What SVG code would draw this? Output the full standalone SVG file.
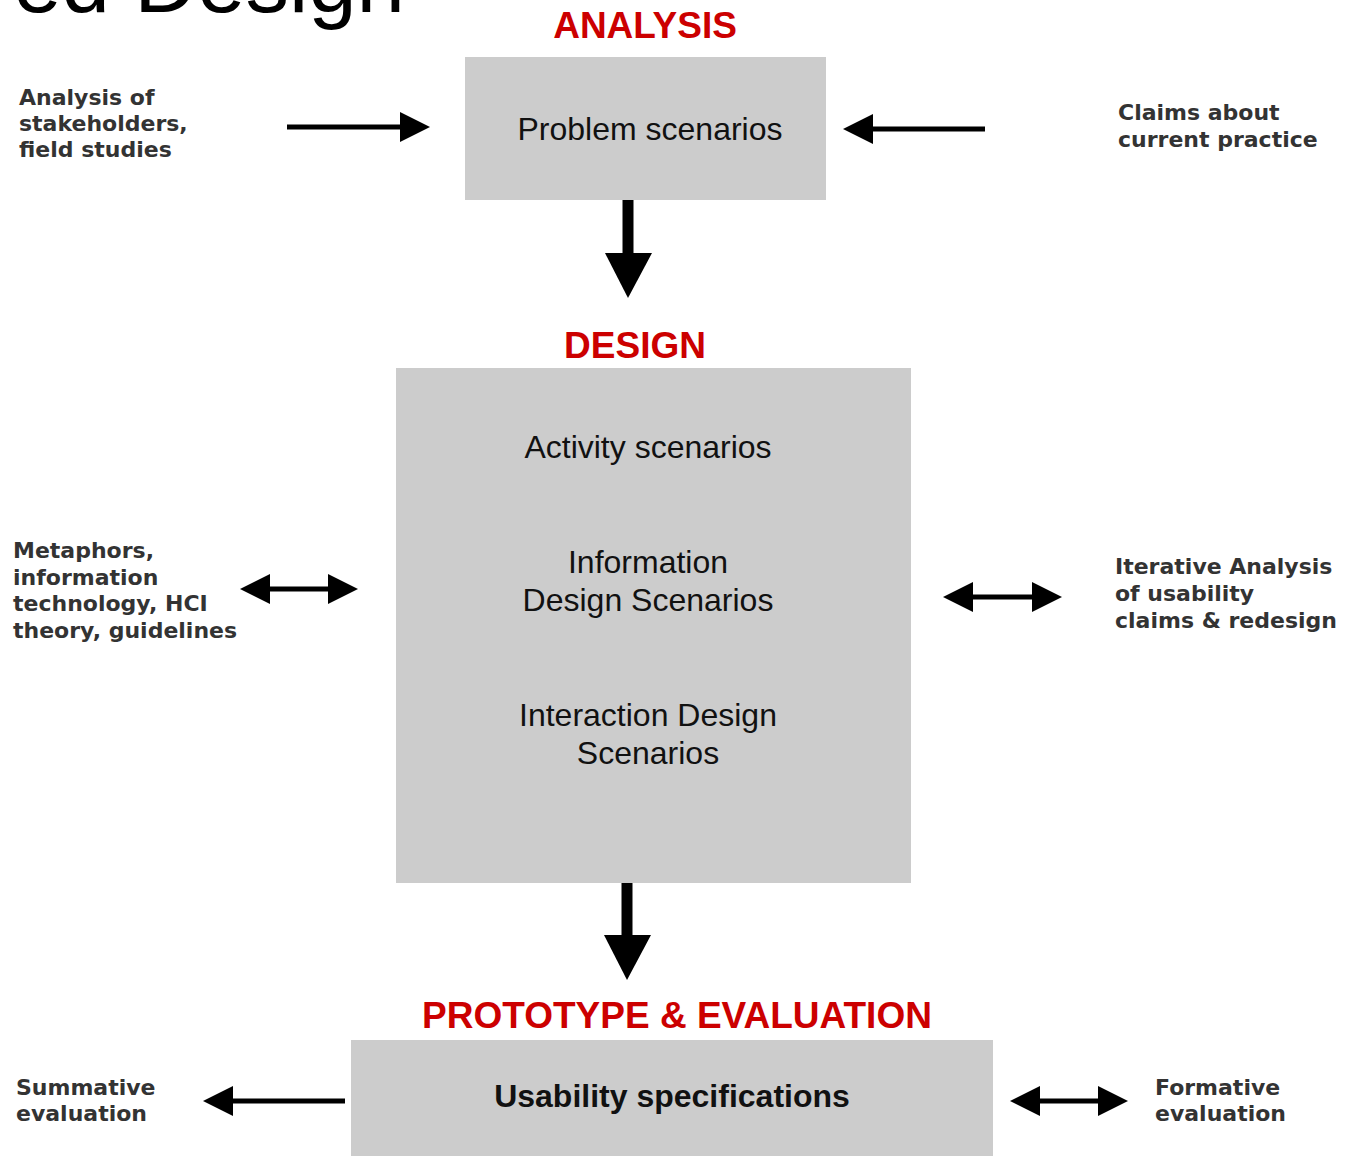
<svg xmlns="http://www.w3.org/2000/svg" width="1355" height="1156" viewBox="0 0 1355 1156">
<defs>
<style>
.title{font-family:"Liberation Sans",Arial,sans-serif;font-size:87px;fill:#000}
.phase{font-family:"Liberation Sans",Arial,sans-serif;font-weight:bold;font-size:37px;fill:#cc0000;text-anchor:middle}
.box{fill:#cccccc}
.bt{font-family:"Liberation Sans",Arial,sans-serif;font-size:32px;fill:#111;text-anchor:middle}
.bb{font-family:"Liberation Sans",Arial,sans-serif;font-weight:bold;font-size:32px;fill:#111;text-anchor:middle}
.lab{font-family:"DejaVu Sans",Verdana,sans-serif;font-weight:bold;font-size:22px;fill:#333}
.ln{stroke:#000;stroke-width:5;fill:none}
.hd{fill:#000}
</style>
</defs>
<rect width="1355" height="1156" fill="#fff"/>
<text class="title" x="405" y="12" text-anchor="end">ed Design</text>

<g id="analysis">
<text class="phase" x="645" y="38">ANALYSIS</text>
<rect class="box" x="465" y="57" width="361" height="143"/>
<text class="bt" x="650" y="140">Problem scenarios</text>
</g>

<g id="design">
<text class="phase" x="635" y="358">DESIGN</text>
<rect class="box" x="396" y="368" width="515" height="515"/>
<text class="bt" x="648" y="458">Activity scenarios</text>
<text class="bt" x="648" y="573">Information</text>
<text class="bt" x="648" y="611">Design Scenarios</text>
<text class="bt" x="648" y="726">Interaction Design</text>
<text class="bt" x="648" y="764">Scenarios</text>
</g>

<g id="prototype">
<text class="phase" x="677" y="1028">PROTOTYPE &amp; EVALUATION</text>
<rect class="box" x="351" y="1040" width="642" height="130"/>
<text class="bb" x="672" y="1107">Usability specifications</text>
</g>

<g id="lab-analysis-of"><text class="lab" x="19" y="105">Analysis of</text><text class="lab" x="19" y="131">stakeholders,</text><text class="lab" x="19" y="157">field studies</text></g>
<g id="lab-claims"><text class="lab" x="1118" y="120">Claims about</text><text class="lab" x="1118" y="147">current practice</text></g>
<g id="lab-metaphors"><text class="lab" x="13" y="558">Metaphors,</text><text class="lab" x="13" y="585">information</text><text class="lab" x="13" y="611">technology, HCI</text><text class="lab" x="13" y="638">theory, guidelines</text></g>
<g id="lab-iterative"><text class="lab" x="1115" y="574">Iterative Analysis</text><text class="lab" x="1115" y="601">of usability</text><text class="lab" x="1115" y="628">claims &amp; redesign</text></g>
<g id="lab-summative"><text class="lab" x="16" y="1095">Summative</text><text class="lab" x="16" y="1121">evaluation</text></g>
<g id="lab-formative"><text class="lab" x="1155" y="1095">Formative</text><text class="lab" x="1155" y="1121">evaluation</text></g>

<g id="connectors">
<line class="ln" x1="287" y1="127" x2="402" y2="127"/>
<polygon class="hd" points="430,127 400,112 400,142"/>
<line class="ln" x1="985" y1="129" x2="870" y2="129"/>
<polygon class="hd" points="843,129 873,114 873,144"/>
<line stroke="#000" stroke-width="11" x1="628" y1="200" x2="628" y2="258"/>
<polygon class="hd" points="605,253 652,253 628,298"/>
<line class="ln" x1="265" y1="589" x2="335" y2="589"/>
<polygon class="hd" points="240,589 270,574 270,604"/>
<polygon class="hd" points="358,589 328,574 328,604"/>
<line class="ln" x1="968" y1="597" x2="1038" y2="597"/>
<polygon class="hd" points="943,597 973,582 973,612"/>
<polygon class="hd" points="1062,597 1032,582 1032,612"/>
<line stroke="#000" stroke-width="11" x1="627" y1="883" x2="627" y2="940"/>
<polygon class="hd" points="604,935 651,935 627,980"/>
<line class="ln" x1="345" y1="1101" x2="230" y2="1101"/>
<polygon class="hd" points="203,1101 233,1086 233,1116"/>
<line class="ln" x1="1035" y1="1101" x2="1103" y2="1101"/>
<polygon class="hd" points="1010,1101 1040,1086 1040,1116"/>
<polygon class="hd" points="1128,1101 1098,1086 1098,1116"/>
</g>
</svg>
